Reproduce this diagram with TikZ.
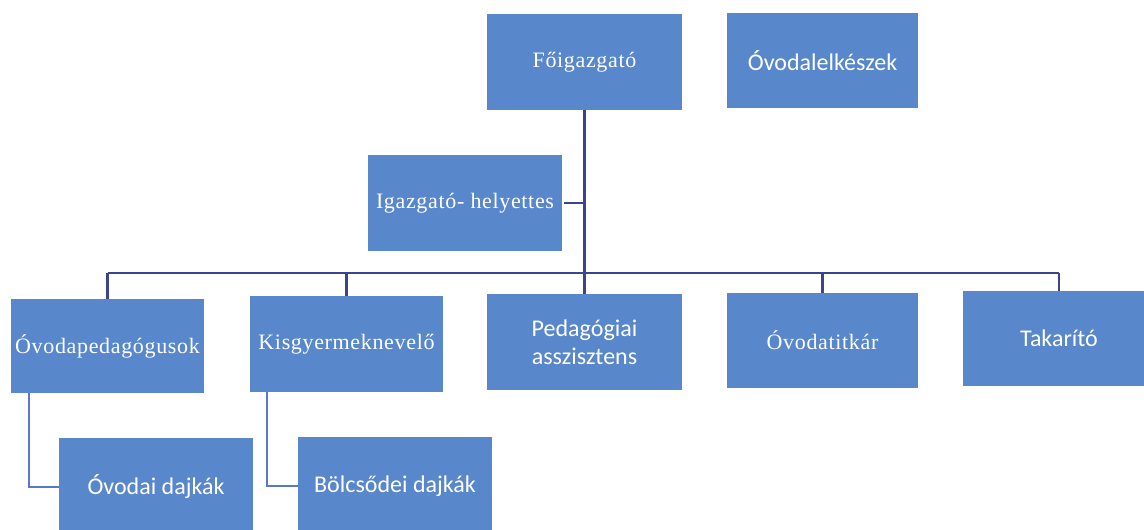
\documentclass[tikz,border=0pt]{standalone}
\usepackage{fontspec}
\setmainfont{Liberation Serif}
\newfontfamily\serifsp[LetterSpace=3]{Liberation Serif}
\newfontfamily\calib{Carlito}
\definecolor{boxblue}{HTML}{5887CC}
\definecolor{linenavy}{HTML}{3C458C}
\definecolor{lineblue}{HTML}{5A78C8}
\tikzset{
  orgbox/.style={draw=none, fill=boxblue, text=white, inner sep=1pt, align=center},
  serifbox/.style={orgbox, font=\serifsp\fontsize{22}{26}\selectfont},
  sansbox/.style={orgbox, font=\calib\fontsize{24}{28}\selectfont},
  mainline/.style={draw=linenavy, line width=2.2pt},
  subline/.style={draw=lineblue, line width=2.4pt},
}
\begin{document}
\begin{tikzpicture}[x=1pt, y=-1pt]
\useasboundingbox (0,0) rectangle (1144,530);
\clip (0,0) rectangle (1144,530);
\fill[white] (0,0) rectangle (1144,530);
% top level
\node[serifbox, minimum width=195pt, minimum height=96pt] (fo) at (584.5,62) {Főigazgató};
\node[sansbox, minimum width=191pt, minimum height=95pt] (ovk) at (822.5,60.5) {Óvodalelkészek};
\node[serifbox, minimum width=194pt, minimum height=96pt] (ih) at (465,203) {Igazgató- helyettes};
% second level
\node[serifbox, minimum width=193pt, minimum height=94pt] (op) at (107.5,346) {Óvodapedagógusok};
\node[serifbox, minimum width=193pt, minimum height=96pt] (kg) at (346.5,344) {Kisgyermeknevelő};
\node[sansbox, minimum width=195pt, minimum height=96pt] (pa) at (584.5,342) {Pedagógiai\\asszisztens};
\node[serifbox, minimum width=191pt, minimum height=95pt] (ot) at (822.5,340.5) {Óvodatitkár};
\node[sansbox, minimum width=192pt, minimum height=95pt] (tk) at (1059,338.5) {Takarító};
% third level
\node[sansbox, minimum width=194pt, minimum height=98pt] (od) at (156,487) {Óvodai dajkák};
\node[sansbox, minimum width=194pt, minimum height=98pt] (bd) at (395,486) {Bölcsődei dajkák};
% bus coordinates
\coordinate (busL) at (107.5,273);
\coordinate (busR) at (1059,273);
% connectors
\draw[mainline] (fo.south) -- (pa.north);
\draw[mainline] ([xshift=2pt]ih.east) -- (ih.east -| fo.south);
\draw[mainline] (busL) -- (busR);
\draw[mainline] (busL) -- (op.north);
\draw[mainline] (kg.north |- busL) -- (kg.north);
\draw[mainline] (ot.north |- busL) -- (ot.north);
\draw[mainline] (busR) -- (tk.north);
\draw[subline] ([xshift=18pt]op.south west) |- (od.west);
\draw[subline] ([xshift=17pt]kg.south west) |- (bd.west);
\end{tikzpicture}
\end{document}
